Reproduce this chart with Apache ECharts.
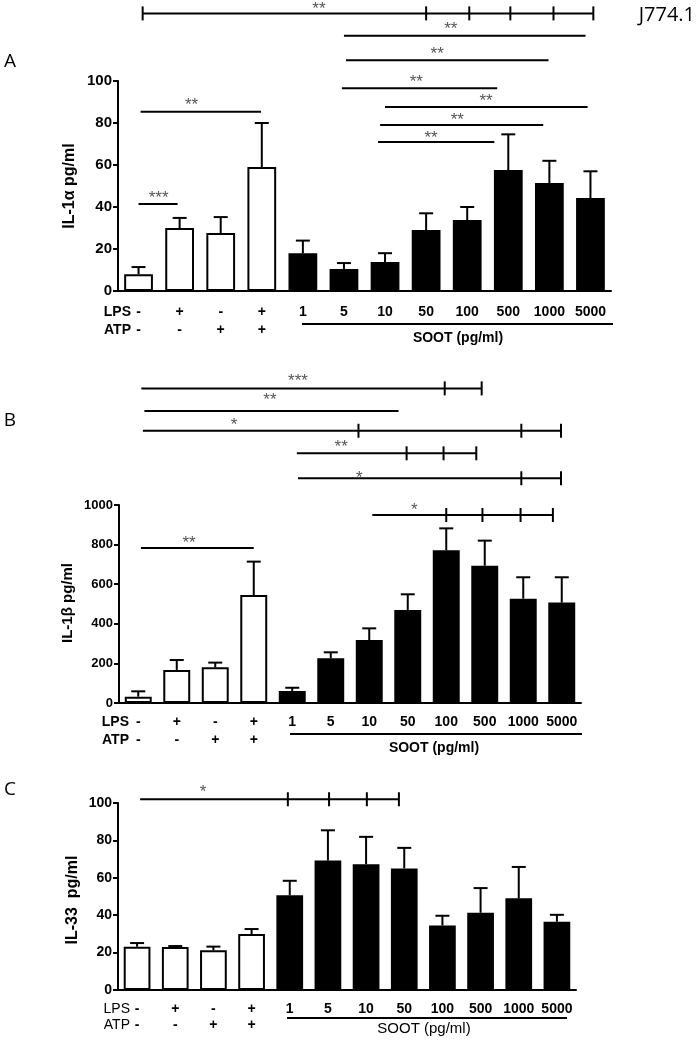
<!DOCTYPE html>
<html><head><meta charset="utf-8">
<script src="https://cdn.jsdelivr.net/npm/echarts@6/dist/echarts.min.js"></script>
<style>html,body{margin:0;padding:0;background:#fff}#c{width:700px;height:1041px}</style>
</head><body><div id="c"></div>
<script>
// ---------- data ----------
const categories = ['ctrl', 'LPS', 'ATP', 'LPS+ATP', '1', '5', '10', '50', '100', '500', '1000', '5000'];
const lpsRow = ['-', '+', '-', '+'];
const atpRow = ['-', '-', '+', '+'];

const il1aMean = [8, 30, 27.6, 59, 18, 10.5, 13.8, 29, 33.8, 57.6, 51.4, 44.3];
const il1aErr  = [3.4, 4.8, 7.6, 21, 6, 2.8, 4.2, 8, 6.2, 17, 10.6, 12.7];
const il1bMean = [32, 167, 180, 545, 61, 226, 318, 470, 771, 693, 527, 507];
const il1bErr  = [27, 50, 24, 169, 16, 30, 59, 79, 111, 127, 108, 128];
const il33Mean = [23.1, 23, 21.2, 29.9, 50.7, 69.2, 67.3, 65, 34.5, 41.3, 49, 36.5];
const il33Err  = [2, 0.5, 2, 2.7, 7.7, 16.2, 14.6, 11, 5.2, 13.2, 16.8, 3.7];

const yTicksA = [0, 20, 40, 60, 80, 100];
const yTicksB = [0, 200, 400, 600, 800, 1000];
const yTicksC = [0, 20, 40, 60, 80, 100];

// significance brackets: [fromIndex, toIndex, level, starX, starY]
const bracketsA = [
  [0.1, 11.07, 132.2, 4.39, 136.7],
  [5.0, 10.88, 121.6, 7.6, 127.1],
  [5.05, 9.98, 109.9, 7.27, 115.2],
  [4.95, 8.73, 96.5, 6.76, 101.9],
  [6.0, 10.93, 87.6, 8.46, 92.9],
  [5.88, 9.85, 79.0, 7.76, 83.8],
  [5.83, 8.66, 71.0, 7.12, 75.2],
  [0.05, 2.98, 85.4, 1.29, 91.0],
  [0.0, 0.95, 41.4, 0.49, 46.7]
];
const bracketTicksA = [[0.1, 7.0, 8.05, 9.05, 10.1, 11.07], [], [], [], [], [], [], [], []];
const bracketStarsA = ['**', '**', '**', '**', '**', '**', '**', '**', '***'];

const bracketsB = [
  [0.08, 8.92, 1589, 4.15, 1648],
  [0.16, 6.76, 1475, 3.42, 1552],
  [0.12, 10.98, 1375, 2.49, 1426],
  [4.12, 8.78, 1261, 5.27, 1315],
  [4.15, 10.98, 1135, 5.74, 1160],
  [6.08, 10.77, 949.5, 7.17, 996],
  [0.07, 3.0, 783, 1.32, 833]
];
const bracketTicksB = [[7.96, 8.92], [], [5.72, 9.95, 10.98], [6.97, 7.93, 8.78], [9.95, 10.98], [8.0, 8.94, 9.93, 10.77], []];
const bracketStarsB = ['***', '**', '*', '**', '*', '*', '**'];

const bracketsC = [
  [0.08, 6.86, 102, 1.73, 108.4]
];
const bracketTicksC = [[3.95, 5.03, 6.02, 6.86]];
const bracketStarsC = ['*'];

// ---------- layout / style ----------
const FONT = 'Liberation Sans, Arial, sans-serif';
const panels = [
  { mean: il1aMean, err: il1aErr, br: bracketsA, bt: bracketTicksA, bs: bracketStarsA, ticks: yTicksA,
    grid: { left: 118, top: 81, width: 493, height: 210 }, yFont: 15, margin: 12, lh: 18, xFont: 14 },
  { mean: il1bMean, err: il1bErr, br: bracketsB, bt: bracketTicksB, bs: bracketStarsB, ticks: yTicksB,
    grid: { left: 119, top: 505, width: 462, height: 198 }, yFont: 13, margin: 10, lh: 18, xFont: 14 },
  { mean: il33Mean, err: il33Err, br: bracketsC, bt: bracketTicksC, bs: bracketStarsC, ticks: yTicksC,
    grid: { left: 118, top: 803, width: 458, height: 187 }, yFont: 14, margin: 11, lh: 16, xFont: 14 }
];

const grids = [], xAxes = [], yAxes = [], series = [];
panels.forEach((p, k) => {
  grids.push(Object.assign({ containLabel: false }, p.grid));
  xAxes.push({
    type: 'category', gridIndex: k, data: categories,
    axisLine: { onZero: false, lineStyle: { color: '#000', width: 2 } },
    axisTick: { alignWithLabel: true, length: 6, lineStyle: { color: '#000', width: 2 } },
    axisLabel: {
      interval: 0, margin: p.margin, color: '#000', fontFamily: FONT, fontWeight: 'bold',
      fontSize: p.xFont, lineHeight: p.lh,
      formatter: (v, i) => i < 4 ? lpsRow[i] + '\n' + atpRow[i] : v
    }
  });
  xAxes.push({ type: 'value', gridIndex: k, min: -0.5, max: 11.5, show: false });
  const yMax = p.ticks[p.ticks.length - 1];
  yAxes.push({
    type: 'value', gridIndex: k, min: 0, max: yMax, interval: p.ticks[1] - p.ticks[0],
    axisLine: { show: true, onZero: false, lineStyle: { color: '#000', width: 2 } },
    axisTick: { show: true, length: 5, lineStyle: { color: '#000', width: 2 } },
    splitLine: { show: false },
    axisLabel: { color: '#000', fontFamily: FONT, fontWeight: 'bold', fontSize: p.yFont, margin: 6,
      formatter: v => String(v) }
  });
  series.push({
    type: 'bar', xAxisIndex: 2 * k, yAxisIndex: k, barWidth: '70%', silent: true, z: 2,
    itemStyle: { borderColor: '#000', borderWidth: 2 },
    data: p.mean.map((v, i) => ({ value: v, itemStyle: { color: i < 4 ? '#fff' : '#000' } }))
  });
  series.push({
    type: 'custom', xAxisIndex: 2 * k + 1, yAxisIndex: k, silent: true, z: 3, clip: false,
    data: p.mean.map((m, i) => [i, m, m + p.err[i]]),
    renderItem: (params, api) => {
      const a = api.coord([api.value(0), api.value(1)]);
      const b = api.coord([api.value(0), api.value(2)]);
      const st = { stroke: '#000', lineWidth: 2 };
      return { type: 'group', children: [
        { type: 'line', shape: { x1: a[0], y1: a[1], x2: b[0], y2: b[1] }, style: st },
        { type: 'line', shape: { x1: b[0] - 7, y1: b[1], x2: b[0] + 7, y2: b[1] }, style: st }
      ] };
    }
  });
  series.push({
    type: 'custom', xAxisIndex: 2 * k + 1, yAxisIndex: k, silent: true, z: 4, clip: false,
    data: p.br,
    renderItem: (params, api) => {
      const i = params.dataIndex;
      const lvl = api.value(2);
      const a = api.coord([api.value(0), lvl]);
      const b = api.coord([api.value(1), lvl]);
      const s = api.coord([api.value(3), api.value(4)]);
      const st = { stroke: '#000', lineWidth: 2 };
      const ch = [{ type: 'line', shape: { x1: a[0], y1: a[1], x2: b[0], y2: b[1] }, style: st }];
      p.bt[i].forEach(t => {
        const q = api.coord([t, lvl]);
        ch.push({ type: 'line', shape: { x1: q[0], y1: q[1] - 7, x2: q[0], y2: q[1] + 7 }, style: st });
      });
      ch.push({ type: 'text', x: s[0], y: s[1] + 5,
        style: { text: p.bs[i], fill: '#555', fontSize: 17, fontFamily: FONT, align: 'center', verticalAlign: 'middle' } });
      return { type: 'group', children: ch };
    }
  });
});

const txt = (x, y, text, o) => ({ type: 'text', x, y, silent: true,
  style: Object.assign({ text, fill: '#000', fontFamily: FONT, fontSize: 14, fontWeight: 'bold', align: 'center', verticalAlign: 'middle' }, o || {}) });
const hline = (x1, x2, y) => ({ type: 'line', silent: true, shape: { x1, y1: y, x2, y2: y }, style: { stroke: '#000', lineWidth: 2 } });

const graphic = [
  txt(695, 15, 'J774.1', { fontFamily: 'Open Sans', fontWeight: 'normal', fontSize: 20, align: 'right' }),
  txt(10, 62, 'A', { fontFamily: 'Open Sans', fontWeight: 'normal', fontSize: 19 }),
  txt(10, 421, 'B', { fontFamily: 'Open Sans', fontWeight: 'normal', fontSize: 19 }),
  txt(10, 790, 'C', { fontFamily: 'Open Sans', fontWeight: 'normal', fontSize: 19 }),
  Object.assign(txt(70, 186, 'IL-1α pg/ml', { fontSize: 16 }), { rotation: Math.PI / 2 }),
  Object.assign(txt(68, 603, 'IL-1β pg/ml', { fontSize: 15 }), { rotation: Math.PI / 2 }),
  Object.assign(txt(73, 900, 'IL-33  pg/ml', { fontSize: 16 }), { rotation: Math.PI / 2 }),
  txt(131, 312, 'LPS', { align: 'right', fontSize: 14 }),
  txt(131, 330, 'ATP', { align: 'right', fontSize: 14 }),
  txt(129, 722, 'LPS', { align: 'right', fontSize: 14 }),
  txt(129, 740, 'ATP', { align: 'right', fontSize: 14 }),
  txt(130, 1009, 'LPS', { align: 'right', fontSize: 14, fontWeight: 'normal' }),
  txt(130, 1025, 'ATP', { align: 'right', fontSize: 14, fontWeight: 'normal' }),
  hline(302, 613, 324), txt(458, 338, 'SOOT (pg/ml)', { fontSize: 14 }),
  hline(290, 582, 734), txt(434, 748, 'SOOT (pg/ml)', { fontSize: 14 }),
  hline(287, 567, 1018), txt(424, 1029, 'SOOT (pg/ml)', { fontSize: 15, fontWeight: 'normal' })
];

const chart = echarts.init(document.getElementById('c'));
chart.setOption({
  animation: false, backgroundColor: '#fff',
  textStyle: { fontFamily: FONT },
  grid: grids, xAxis: xAxes, yAxis: yAxes, series, graphic
});
</script></body></html>
